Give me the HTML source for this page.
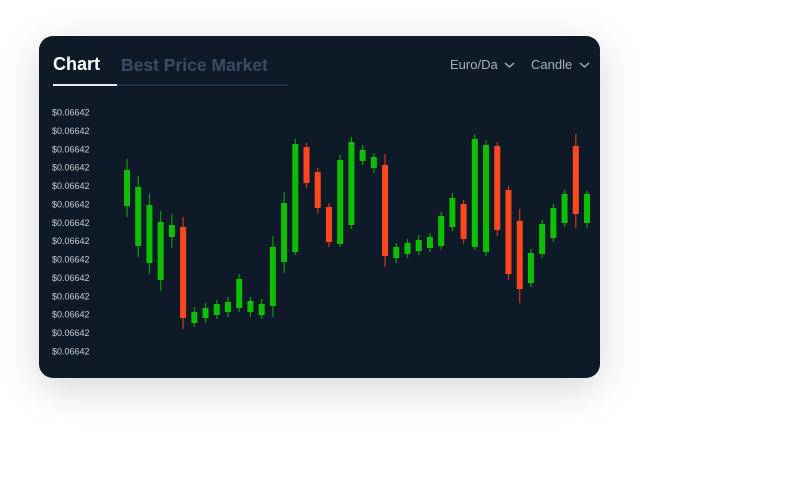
<!DOCTYPE html>
<html><head><meta charset="utf-8"><style>
body{margin:0;width:786px;height:499px;background:#fff;position:relative;overflow:hidden;font-family:"Liberation Sans",sans-serif}
#card{position:absolute;left:39px;top:36px;width:561px;height:342px;background:#0f1a29;border-radius:14px;box-shadow:0 10px 40px rgba(15,26,41,0.18)}
.t{position:absolute;white-space:nowrap}
</style></head><body>
<div id="card">
<div class="t" style="left:14px;top:18px;font-size:18px;font-weight:bold;color:#fff">Chart</div>
<div class="t" style="left:82px;top:19px;font-size:17.5px;font-weight:bold;color:#3a4d65">Best Price Market</div>
<div style="position:absolute;left:14px;top:48px;width:235px;height:2px;background:#1e3350"></div>
<div style="position:absolute;left:14px;top:48px;width:64px;height:2px;background:#e8ebef"></div>
<div class="t" style="left:411px;top:21px;font-size:13px;color:#a6aeb9">Euro/Da <svg width="11" height="8" style="margin-left:3px"><path d="M1 2 L5.5 6 L10 2" stroke="#a6aeb9" stroke-width="1.4" fill="none"/></svg></div>
<div class="t" style="left:492px;top:21px;font-size:13px;color:#a6aeb9">Candle <svg width="11" height="8" style="margin-left:3px"><path d="M1 2 L5.5 6 L10 2" stroke="#a6aeb9" stroke-width="1.4" fill="none"/></svg></div>
</div>
<svg id="chart" width="786" height="499" style="position:absolute;left:0;top:0"></svg>
<script>
const yTickLabels=["$0.06642","$0.06642","$0.06642","$0.06642","$0.06642","$0.06642","$0.06642","$0.06642","$0.06642","$0.06642","$0.06642","$0.06642","$0.06642","$0.06642"];
const opens=[154,114,97,80,123,133,37,42,45,48,52,48,45,54,98,108,213,188,153,116,135,199,192,195,102,106,109,112,114,133,156,113,108,214,170,139,77,106,122,137,214,137];
const closes=[190,173,155,138,135,42,48,52,56,58,81,59,56,113,157,216,177,152,118,200,218,210,203,104,113,117,120,123,144,162,121,221,215,130,86,71,107,136,152,166,146,166];
const highs=[201,184,166,149,146,143,53,57,60,63,86,63,61,124,168,221,217,192,157,205,223,215,207,206,117,121,125,127,148,167,160,226,220,218,174,151,111,140,156,170,226,170];
const lows=[143,103,86,69,112,31,33,37,41,43,48,43,41,43,87,105,172,147,113,113,131,195,187,93,97,102,105,108,110,129,116,110,104,124,80,57,73,102,118,133,132,132];
const svg=document.getElementById('chart');const NS='http://www.w3.org/2000/svg';
const yS=v=>360-v;const xS=i=>127+i*11.22;
yTickLabels.forEach((l,i)=>{const t=document.createElementNS(NS,'text');


t.setAttribute('x',52);t.setAttribute('y',115.5+i*18.38);t.setAttribute('font-size','9');t.setAttribute('fill','#c9cdd3');t.setAttribute('font-family','Liberation Sans, sans-serif');t.textContent=l;svg.appendChild(t);});
opens.forEach((o,i)=>{const c=closes[i];const up=c>=o;const col=up?'#0cbf00':'#ff4820';const x=xS(i);
const w=document.createElementNS(NS,'rect');


w.setAttribute('x',x-0.6);w.setAttribute('y',yS(highs[i]));w.setAttribute('width',1.2);w.setAttribute('height',yS(lows[i])-yS(highs[i]));w.setAttribute('fill',up?'#0a9a05':'#c9391c');svg.appendChild(w);
const b=document.createElementNS(NS,'rect');


const top=yS(Math.max(o,c)),bot=yS(Math.min(o,c));
b.setAttribute('x',x-3);b.setAttribute('y',top);b.setAttribute('width',6);b.setAttribute('height',Math.max(1,bot-top));b.setAttribute('fill',col);svg.appendChild(b);});
</script>
</body></html>
